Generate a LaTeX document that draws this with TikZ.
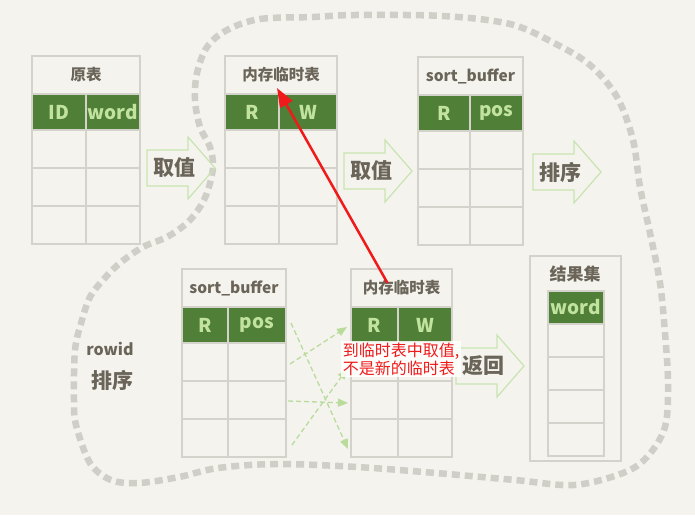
\documentclass[tikz,border=0pt]{standalone}
\usepackage{fontspec}
\setmainfont{Noto Sans CJK SC}
\usetikzlibrary{arrows.meta, positioning}

\definecolor{bgc}{HTML}{F4F3EE}
\definecolor{gridc}{HTML}{D3D2CB}
\definecolor{hgreen}{HTML}{507F38}
\definecolor{hlight}{HTML}{C2E3A0}
\definecolor{inkc}{HTML}{6A6459}
\definecolor{agreen}{HTML}{C8E4B0}
\definecolor{dgreen}{HTML}{B9DB9C}
\definecolor{blobc}{HTML}{CFCEC7}
\definecolor{redc}{HTML}{F01A1A}

\begin{document}
\begin{tikzpicture}[x=1pt, y=-1pt,
	titlebox/.style={draw=gridc, line width=1.2pt, minimum height=38pt, inner sep=0pt, outer sep=0pt, text=inkc, font=\bfseries\fontsize{15.5}{16}\selectfont},
	headcell/.style={draw=gridc, fill=hgreen, line width=1.2pt, minimum height=36pt, inner sep=0pt, outer sep=0pt, text=hlight, font=\bfseries\fontsize{19}{19}\selectfont},
	rowcell/.style={draw=gridc, line width=1.2pt, minimum height=38pt, inner sep=0pt, outer sep=0pt},
	blockarrow/.style={draw=agreen, line width=1.2pt, line join=miter},
	arrowtext/.style={text=inkc, font=\bfseries\fontsize{21}{21}\selectfont},
	dasharrow/.style={draw=dgreen, line width=1.3pt, dash pattern=on 5pt off 3pt, -{Triangle[length=10pt,width=8pt,fill=dgreen]}},
	redarrow/.style={draw=redc, line width=2.5pt, -{Triangle[length=19pt,width=14pt]}},
	redlabel/.style={fill=white, fill opacity=0.85, text opacity=1, text=redc, inner sep=1.5pt, align=left, font=\fontsize{16}{18}\selectfont},
	blobline/.style={draw=blobc, line width=6.5pt, dash pattern=on 8pt off 5pt}]
	\fill[bgc] (0,0) rectangle (695,515);
	\useasboundingbox (0,0) rectangle (695,515);
	% dashed outline
	\draw[blobline] plot[smooth cycle, tension=0.55] coordinates {
		(227,30) (260,19) (313,17) (355,15) (443,16) (510,24) (554,43) (590,65)
		(617,97) (633,140) (640,187) (650,233) (660,283) (665,333) (668,383) (665,427)
		(647,457) (623,473) (574,485) (515,480) (436,473) (357,467) (277,464) (218,468)
		(179,477) (139,483) (111,480) (90,463) (76,425) (74,400) (75,350) (82,320)
		(90,297) (103,280) (120,263) (143,247) (167,237) (187,223) (200,207) (208,190)
		(213,167) (210,147) (200,127) (195,100) (197,73) (207,47)};
	% tables
	\foreach \n/\x/\y/\wa/\wb/\ti/\ha/\hb in {src/32/56/54/54/原表/ID/word, tmp/225/56/54/58/内存临时表/R/W, buf/418/57/52/53/sort\_buffer/R/pos, rbuf/182/269/46/58/sort\_buffer/R/pos, rtmp/351/269/47/54/内存临时表/R/W}
	{
		\node[titlebox, minimum width={\wa+\wb}, anchor=north west] (\n-t) at (\x,\y) {\ti};
		\node[headcell, minimum width=\wa, anchor=north west] (\n-h1) at (\n-t.south west) {\ha};
		\node[headcell, minimum width=\wb, anchor=north west] (\n-h2) at (\n-h1.north east) {\hb};
		\foreach \r in {1,2,3} {
			\node[rowcell, minimum width=\wa, anchor=north west] (\n-r\r-a) at ([yshift={-(\r-1)*38}]\n-h1.south west) {};
			\node[rowcell, minimum width=\wb, anchor=north west] (\n-r\r-b) at (\n-r\r-a.north east) {};
		}
	}
	% result set
	\node[draw=gridc, line width=1.2pt, minimum width=91pt, minimum height=205pt, inner sep=0pt, outer sep=0pt, anchor=north west] (res) at (530,256) {};
	\node[text=inkc, font=\bfseries\fontsize{17}{17}\selectfont] (res-t) at (575,274) {结果集};
	\node[headcell, minimum width=56pt, minimum height=33pt, anchor=north west] (res-h) at (548,291) {word};
	\foreach \r in {1,...,4}
		\node[rowcell, minimum width=56pt, minimum height=33pt, anchor=north west] (res-r\r) at ([yshift={-(\r-1)*33}]res-h.south west) {};
	% block arrows
	\foreach \n/\x/\y/\t in {get1/147/168/取值, get2/344/171/取值, sort1/533/172/排序, ret/456/366/返回}
	{
		\draw[blockarrow] (\x,\y-18) -- (\x+41,\y-18) -- (\x+41,\y-31) -- (\x+68,\y) -- (\x+41,\y+31) -- (\x+41,\y+18) -- (\x,\y+18) -- cycle;
		\node[arrowtext] (\n) at (\x+27,\y) {\t};
	}
	\node[text=inkc, font=\bfseries\fontsize{16}{16}\selectfont] (rowid) at (110,349) {rowid};
	\node[arrowtext] (rsort) at (112,380) {排序};
	% rowid lookups
	\draw[dasharrow] ([xshift=5pt,yshift=2pt]rbuf-h2.east) -- ([xshift=-3pt,yshift=-11pt]rtmp-r3-a.west);
	\draw[dasharrow] ([xshift=4pt,yshift=-2pt]rbuf-r1-b.east) -- ([xshift=-4pt,yshift=-2pt]rtmp-h1.west);
	\draw[dasharrow] ([xshift=2pt,yshift=-1pt]rbuf-r2-b.east) -- ([xshift=-3pt,yshift=-3pt]rtmp-r2-a.west);
	\draw[dasharrow] ([xshift=6pt,yshift=-7pt]rbuf-r3-b.east) -- ([xshift=-4pt,yshift=-7pt]rtmp-r1-a.west);
	% note
	\draw[redarrow] ([xshift=-14pt,yshift=5pt]rtmp-t.center) -- ([xshift=-4pt,yshift=6pt]tmp-t.south);
	\node[redlabel] (note) at (401,359) {到临时表中取值,\\不是新的临时表};
\end{tikzpicture}
\end{document}
